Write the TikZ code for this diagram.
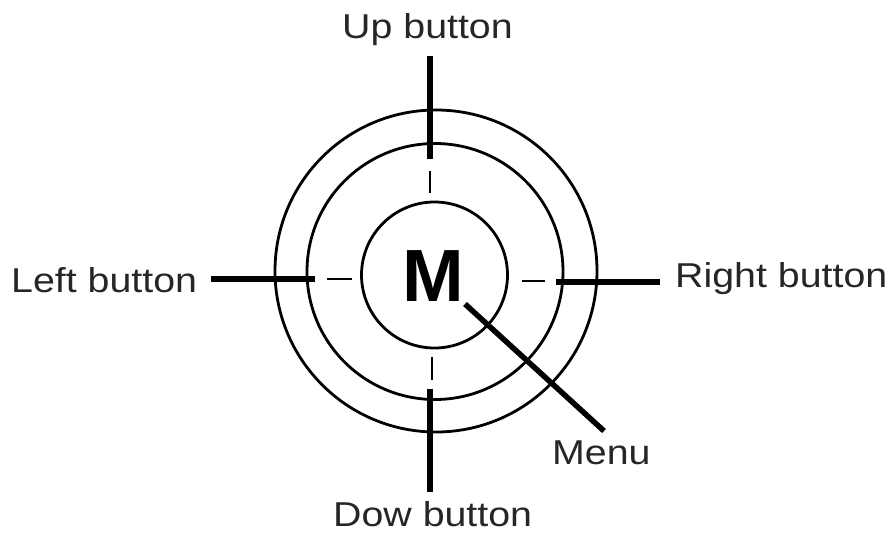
\documentclass[tikz,border=0pt]{standalone}
\usepackage{fontspec}
\setmainfont{Liberation Sans}[FakeStretch=1.14]
\newfontfamily\mfont{Liberation Sans}
\begin{document}
\begin{tikzpicture}[x=1pt,y=-1pt,
  ring/.style={draw, circle, line width=2.8pt, inner sep=0pt, outer sep=0pt},
  lead/.style={line width=5.5pt},
  tick/.style={line width=2.6pt},
  lbl/.style={font=\fontsize{34.5}{40}\selectfont, inner sep=0pt, text=black!85}]
\useasboundingbox (0,0) rectangle (894,536);
% rings
\node[ring, minimum size=322pt] (outer) at (436,271) {};
\node[ring, minimum size=256pt] (middle) at (435,271.5) {};
\node[ring, minimum size=146pt] (inner) at (434.5,275) {};
% centre letter
\node[font=\mfont\bfseries\fontsize{74}{80}\selectfont, inner sep=0pt, anchor=base] (M) at (433,301) {M};
% labels
\node[lbl, anchor=base] (up) at (427.5,38) {Up button};
\node[lbl, anchor=base west] (left) at (11,292) {Left button};
\node[lbl, anchor=base west] (right) at (675,287) {Right button};
\node[lbl, anchor=base west] (menu) at (552,464) {Menu};
\node[lbl, anchor=base west] (down) at (333,526) {Dow button};
% connector end points
\coordinate (upA) at (430,56);   \coordinate (upB) at (430,159);
\coordinate (upC) at (430,171);  \coordinate (upD) at (430,193);
\coordinate (dnA) at (430,492);  \coordinate (dnB) at (430,389);
\coordinate (dnC) at (432,380);  \coordinate (dnD) at (432,357);
\coordinate (lfA) at (211,279);  \coordinate (lfB) at (315,279);
\coordinate (lfC) at (327,279);  \coordinate (lfD) at (352,279);
\coordinate (rtA) at (660,282);  \coordinate (rtB) at (556,282);
\coordinate (rtC) at (545,281);  \coordinate (rtD) at (522,281);
\coordinate (mnA) at (604,431);  \coordinate (mnB) at (465,304);
% leads
\draw[lead] (upA) -- (upB);
\draw[tick] (upC) -- (upD);
\draw[lead] (dnA) -- (dnB);
\draw[tick] (dnC) -- (dnD);
\draw[lead] (lfA) -- (lfB);
\draw[tick] (lfC) -- (lfD);
\draw[lead] (rtA) -- (rtB);
\draw[tick] (rtC) -- (rtD);
\draw[lead] (mnA) -- (mnB);
\end{tikzpicture}
\end{document}
